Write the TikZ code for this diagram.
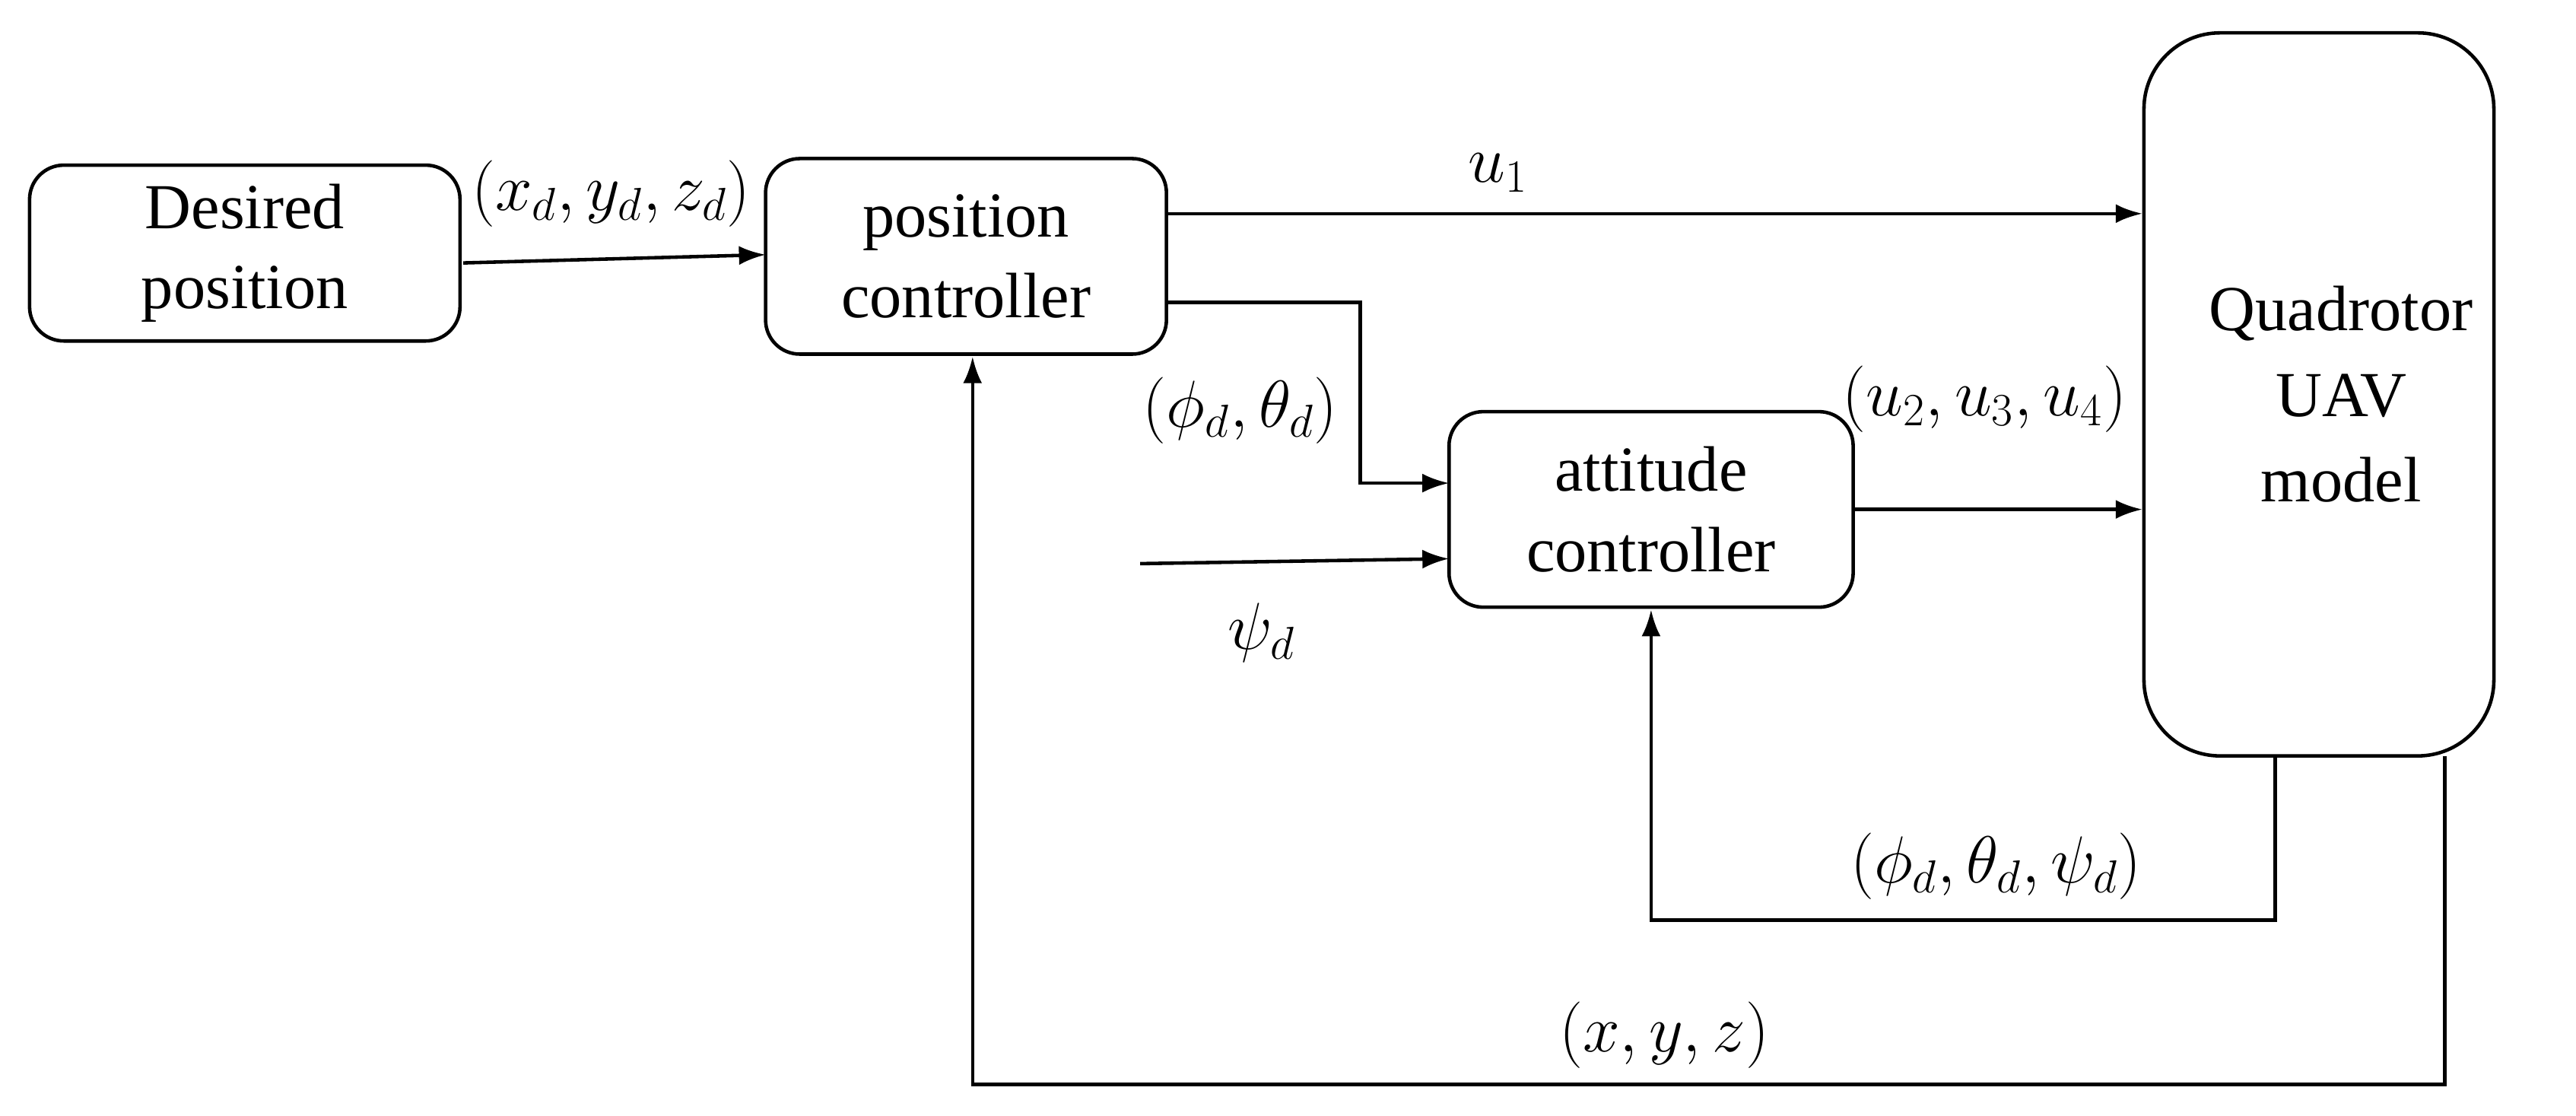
\documentclass[tikz,border=0pt]{standalone}
\usepackage{fontspec}
\setmainfont{Liberation Serif}
\usetikzlibrary{arrows.meta}
\begin{document}
\begin{tikzpicture}[x=0.0216cm,y=-0.0216cm,
  blk/.style={draw,line width=1.3pt,rounded corners=0.45cm,align=center,font=\fontsize{24}{30}\selectfont},
  ar/.style={line width=1.3pt,-{Latex[length=0.35cm,width=0.25cm]}},
  ln/.style={line width=1.3pt},
  lbl/.style={font=\fontsize{26}{30}\selectfont}]
\useasboundingbox (0,0) rectangle (1568,678.7);
\node[blk,minimum width=262*0.0216cm,minimum height=107*0.0216cm] (des) at (149,154) {Desired\\position};
\node[blk,minimum width=244*0.0216cm,minimum height=119*0.0216cm] (pos) at (588,156) {position\\controller};
\node[blk,minimum width=246*0.0216cm,minimum height=119*0.0216cm] (att) at (1005,310) {attitude\\controller};
\node[draw,line width=1.3pt,rounded corners=1cm,minimum width=213*0.0216cm,minimum height=440*0.0216cm] (quad) at (1411.5,240) {};
\node[align=center,font=\fontsize{24}{32}\selectfont] (qt) at (1425,240) {Quadrotor\\UAV\\model};
\coordinate (d1) at (282,160);
\coordinate (d2) at (466,155);
\draw[ar] (d1) -- (d2);
\node[lbl] (lxd) at (372,118) {$(x_d,y_d,z_d)$};
\coordinate (u1s) at (710,130);
\coordinate (u1e) at (1304,130);
\draw[ar] (u1s) -- (u1e);
\node[lbl] (lu1) at (912,105) {$u_1$};
\coordinate (p1) at (710,184);
\coordinate (p2) at (882,294);
\draw[ar] (p1) -| (828,294) -- (p2);
\node[lbl] (lpt) at (755,250) {$(\phi_d,\theta_d)$};
\coordinate (ps) at (694,343);
\coordinate (pe) at (882,340);
\draw[ar] (ps) -- (pe);
\node[lbl] (lpsi) at (768,385) {$\psi_d$};
\coordinate (a1) at (1128,310);
\coordinate (a2) at (1304,310);
\draw[ar] (a1) -- (a2);
\node[lbl] (lu) at (1208,243) {$(u_2,u_3,u_4)$};
\coordinate (f1) at (1385,460);
\coordinate (f2) at (1005,371);
\draw[ar] (f1) -- (1385,560) -| (f2);
\node[lbl] (lf) at (1215,527) {$(\phi_d,\theta_d,\psi_d)$};
\coordinate (g1) at (1488,460);
\coordinate (g2) at (592,217);
\draw[ar] (g1) -- (1488,660) -| (g2);
\node[lbl] (lg) at (1013,630) {$(x,y,z)$};
\end{tikzpicture}
\end{document}
